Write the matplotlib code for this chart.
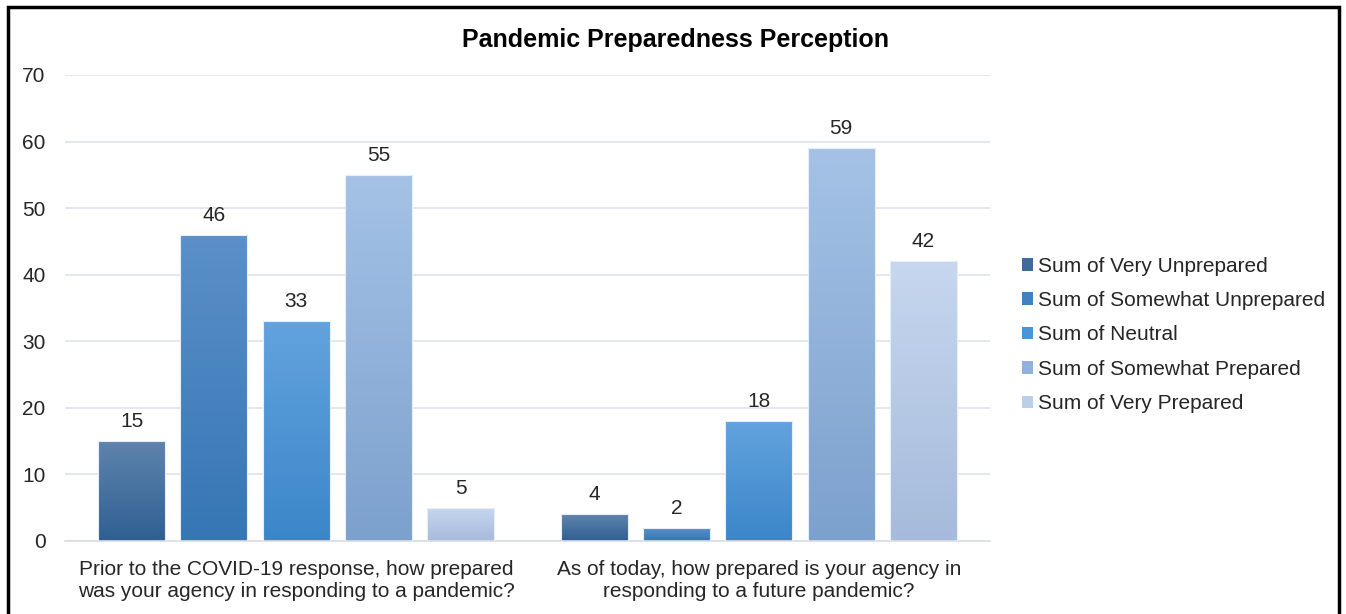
import numpy as np
import matplotlib
matplotlib.use('Agg')
import matplotlib.pyplot as plt
from matplotlib.patches import Patch, Rectangle
from matplotlib.colors import LinearSegmentedColormap

plt.rcParams['font.family'] = ['Liberation Sans', 'DejaVu Sans']

# データ
questions = [
    'Prior to the COVID-19 response, how prepared\nwas your agency in responding to a pandemic?',
    'As of today, how prepared is your agency in\nresponding to a future pandemic?',
]
series = ['Sum of Very Unprepared', 'Sum of Somewhat Unprepared', 'Sum of Neutral',
          'Sum of Somewhat Prepared', 'Sum of Very Prepared']
very_unprepared = [15, 4]
somewhat_unprepared = [46, 2]
neutral = [33, 18]
somewhat_prepared = [55, 59]
very_prepared = [5, 42]
values = [very_unprepared, somewhat_unprepared, neutral, somewhat_prepared, very_prepared]

# グラデーション (上, 下)
grads = [('#5f84ad', '#2f5f92'),
         ('#5b90c9', '#3676b4'),
         ('#62a3de', '#3b86c9'),
         ('#a5c2e6', '#7ca1cd'),
         ('#c6d7ee', '#a6badb')]
legend_colors = ['#3f6b9c', '#4281c0', '#4a95d6', '#8fb1dc', '#bccfea']

fig = plt.figure(figsize=(13.46, 6.14), dpi=100)
ax = fig.add_axes([65 / 1346, 1 - 541 / 614, 925 / 1346, 466 / 614])

x = np.arange(len(questions))
step = 0.178
width = 0.145
for i, (vals, (ctop, cbot)) in enumerate(zip(values, grads)):
    pos = x + (i - 2) * step
    bars = ax.bar(pos, vals, width, color='none', edgecolor='#e8eef7', linewidth=0.8, zorder=3)
    cmap = LinearSegmentedColormap.from_list(f'g{i}', [cbot, ctop])
    grad = np.linspace(0, 1, 256).reshape(-1, 1)
    for b, v in zip(bars, vals):
        x0, y0 = b.get_x(), b.get_y()
        im = ax.imshow(grad, cmap=cmap, origin='lower', aspect='auto',
                       extent=[x0, x0 + b.get_width(), y0, y0 + b.get_height()], zorder=2)
        im.set_clip_path(b)
        ax.text(b.get_x() + b.get_width() / 2, v + 1.5, str(v), ha='center', va='bottom',
                fontsize=15, color='#262626')

ax.set_xlim(-0.5, 1.5)
ax.set_ylim(0, 70)
ax.set_yticks(range(0, 71, 10))
ax.set_xticks(x)
ax.set_xticklabels(questions, fontsize=15, color='#262626', linespacing=1.15)
ax.tick_params(axis='y', labelsize=15, labelcolor='#262626', length=0, pad=14)
ax.tick_params(axis='x', length=0, pad=14)
ax.grid(axis='y', color='#dfe3ea', linewidth=1.2, zorder=0)
ax.set_axisbelow(True)
for s in ['top', 'right', 'left']:
    ax.spines[s].set_visible(False)
ax.spines['bottom'].set_color('#d9dde4')
ax.spines['bottom'].set_linewidth(1.2)

fig.text(676 / 1346, 1 - 40 / 614, 'Pandemic Preparedness Perception', ha='center', va='center',
         fontsize=18, fontweight='bold', color='black')

handles = [Patch(facecolor=c, edgecolor='none') for c in legend_colors]
fig.legend(handles, series, loc='center left', bbox_to_anchor=(1003 / 1346, 1 - 335 / 614),
           frameon=False, fontsize=15, handlelength=0.55, handleheight=0.55,
           handletextpad=0.22, labelspacing=0.74, labelcolor='#262626')

# 外枠
fig.patches.append(Rectangle((8 / 1346, -0.02), 1331 / 1346, (607 / 614) + 0.02,
                             transform=fig.transFigure, fill=False, edgecolor='black',
                             linewidth=2.5))

fig.savefig('out.png', dpi=100)
